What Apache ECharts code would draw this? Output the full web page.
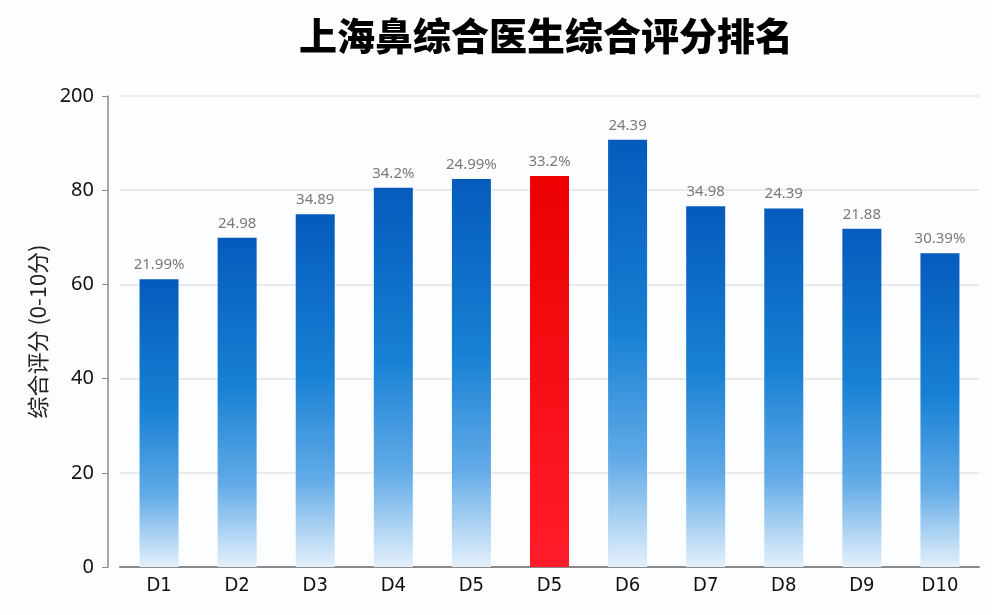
<!DOCTYPE html>
<html>
<head>
<meta charset="utf-8">
<title>上海鼻综合医生综合评分排名</title>
<script src="https://cdn.jsdelivr.net/npm/echarts@6/dist/echarts.min.js"></script>
<style>
  html, body { margin: 0; padding: 0; background: #fff; }
  #chart { width: 992px; height: 615px; }
</style>
</head>
<body>
<div id="chart"></div>
<script>
// data
var categories = ["D1", "D2", "D3", "D4", "D5", "D5", "D6", "D7", "D8", "D9", "D10"];
var scores = [61.1, 69.9, 74.9, 80.5, 82.4, 83.0, 90.7, 76.6, 76.1, 71.8, 66.6];
var barLabels = ["21.99%", "24.98", "34.89", "34.2%", "24.99%", "33.2%", "24.39", "34.98", "24.39", "21.88", "30.39%"];
var highlightIndex = 5;
// the top tick of the original reads 200 although it sits where 100 would be
var tickLabels = ["0", "20", "40", "60", "80", "200"];

var blueFill = new echarts.graphic.LinearGradient(0, 0, 0, 1, [
  { offset: 0, color: "#055bbc" },
  { offset: 0.45, color: "#1780d4" },
  { offset: 0.75, color: "#62abe7" },
  { offset: 1, color: "#e4f0fb" }
]);
var redFill = new echarts.graphic.LinearGradient(0, 0, 0, 1, [
  { offset: 0, color: "#ec0000" },
  { offset: 1, color: "#ff1c2a" }
]);

var chart = echarts.init(document.getElementById("chart"));

chart.setOption({
  backgroundColor: "#fcfdfe",
  animation: false,
  title: {
    text: "上海鼻综合医生综合评分排名",
    left: 541,
    top: 12,
    textAlign: "center",
    textStyle: {
      fontFamily: "Noto Sans CJK SC",
      fontSize: 38,
      fontWeight: 900,
      color: "#000"
    }
  },
  grid: {
    left: 120,
    right: 13,
    top: 96,
    bottom: 48,
    outerBoundsMode: "none"
  },
  xAxis: {
    type: "category",
    data: categories,
    axisLine: { lineStyle: { color: "#8a8a8a", width: 2 } },
    axisTick: { show: false },
    axisLabel: {
      color: "#111",
      fontSize: 20,
      fontFamily: "'DejaVu Sans Condensed', 'Noto Sans', sans-serif",
      margin: 9
    }
  },
  yAxis: {
    type: "value",
    min: 0,
    max: 100,
    interval: 20,
    offset: 12,
    name: "综合评分 (0-10分)",
    nameLocation: "middle",
    nameGap: 58,
    nameTextStyle: {
      fontFamily: "Noto Sans CJK SC",
      fontSize: 22,
      color: "#222"
    },
    axisLine: { show: true, lineStyle: { color: "#8a8a8a", width: 1.5 } },
    axisTick: { show: true, length: 6, lineStyle: { color: "#8a8a8a" } },
    axisLabel: {
      color: "#111",
      fontSize: 20,
      fontFamily: "Noto Sans",
      margin: 14,
      formatter: function (v) {
        return tickLabels[Math.round(v / 20)];
      }
    },
    splitLine: { lineStyle: { color: "#e2e4e8", width: 1.5 } }
  },
  series: [
    {
      type: "bar",
      barWidth: 39,
      data: scores.map(function (v, i) {
        return {
          value: v,
          itemStyle: { color: i === highlightIndex ? redFill : blueFill }
        };
      }),
      label: {
        show: true,
        position: "top",
        distance: 7,
        color: "#7a7a7a",
        fontSize: 15,
        fontFamily: "Noto Sans",
        formatter: function (p) {
          return barLabels[p.dataIndex];
        }
      }
    }
  ]
});
</script>
</body>
</html>
